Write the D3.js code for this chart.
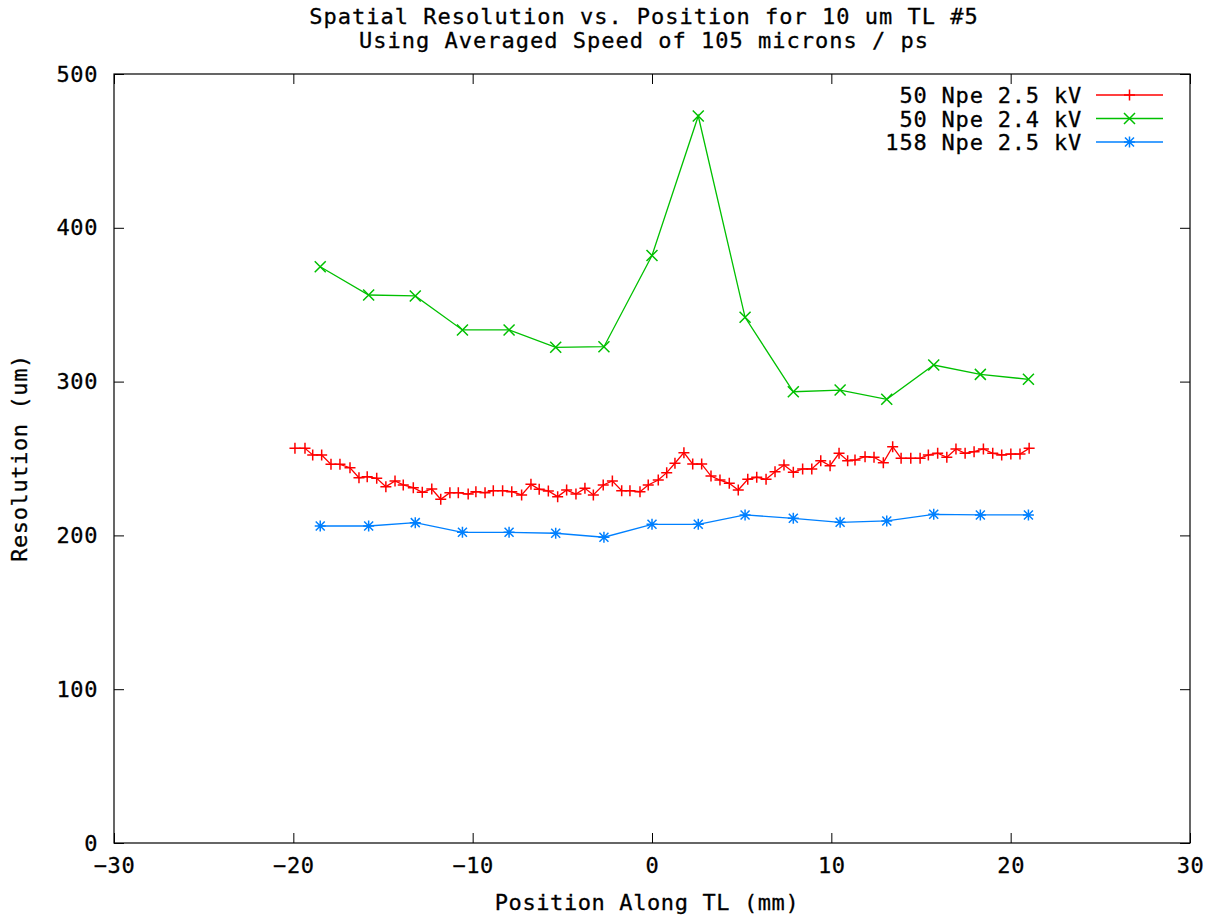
<!DOCTYPE html>
<html>
<head>
<meta charset="utf-8">
<script src="https://cdn.jsdelivr.net/npm/d3@7"></script>
<style>
  body { margin: 0; background: #fff; }
  text { font-family: "DejaVu Sans Mono", monospace; fill: #000; stroke: #000; stroke-width: 0.3px; }
</style>
</head>
<body>
<div id="chart"></div>
<script>
// x positions (mm) and resolutions (um)
var redX = [-19.91, -19.35, -18.92, -18.42, -17.90, -17.40, -16.84, -16.34, -15.88, -15.35,
  -14.84, -14.33, -13.87, -13.31, -12.81, -12.28, -11.78, -11.27, -10.80, -10.25,
  -9.82, -9.31, -8.85, -8.33, -7.82, -7.27, -6.75, -6.29, -5.78, -5.26,
  -4.76, -4.24, -3.74, -3.27, -2.72, -2.21, -1.69, -1.23, -0.67, -0.21,
  0.35, 0.82, 1.28, 1.78, 2.27, 2.77, 3.29, 3.79, 4.31, 4.81,
  5.34, 5.84, 6.36, 6.86, 7.36, 7.88, 8.40, 8.91, 9.41, 9.93,
  10.43, 10.91, 11.32, 11.88, 12.38, 12.90, 13.42, 13.89, 14.43, 14.95,
  15.41, 15.93, 16.44, 16.95, 17.46, 17.96, 18.48, 19.00, 19.50, 20.01,
  20.52, 21.03];
var redY = [256.6, 256.6, 252.3, 252.3, 246.2, 246.2, 244.0, 237.5, 238.2, 237.1,
  231.7, 235.4, 232.8, 231.0, 228.0, 230.2, 223.5, 227.8, 227.8, 226.9,
  228.4, 227.8, 229.1, 229.1, 228.4, 226.3, 233.2, 230.0, 228.9, 225.2,
  229.5, 226.9, 230.6, 226.3, 232.8, 235.4, 229.1, 229.1, 228.4, 232.8,
  236.0, 240.8, 246.9, 253.8, 246.4, 246.4, 238.6, 236.0, 233.9, 229.5,
  236.5, 237.8, 236.5, 241.4, 245.8, 241.0, 243.2, 243.2, 248.6, 245.3,
  253.4, 248.6, 249.0, 251.2, 250.8, 247.3, 257.7, 250.1, 250.1, 250.1,
  252.3, 253.4, 250.8, 256.2, 253.4, 254.4, 256.2, 253.4, 252.3, 252.9,
  252.9, 256.6];

var coarseX = [-18.5, -15.8, -13.2, -10.57, -7.97, -5.37, -2.68, 0, 2.58, 5.19,
  7.88, 10.49, 13.09, 15.71, 18.31, 20.99];
var greenY = [374.7, 356.3, 355.7, 333.6, 333.6, 322.3, 322.7, 382.0, 472.7, 341.8,
  293.4, 294.5, 288.5, 310.8, 304.7, 301.5];
var blueY = [206.1, 206.1, 208.3, 202.0, 202.0, 201.4, 198.8, 207.2, 207.2, 213.3,
  211.1, 208.5, 209.4, 213.7, 213.3, 213.3];

var seriesNames = ["50 Npe 2.5 kV", "50 Npe 2.4 kV", "158 Npe 2.5 kV"];
var seriesColors = ["#ff0000", "#00c000", "#0080ff"];
var xTicks = [-30, -20, -10, 0, 10, 20, 30];
var yTicks = [0, 100, 200, 300, 400, 500];

var series = [
  { name: seriesNames[0], color: seriesColors[0], mark: "plus", xs: redX, ys: redY },
  { name: seriesNames[1], color: seriesColors[1], mark: "cross", xs: coarseX, ys: greenY },
  { name: seriesNames[2], color: seriesColors[2], mark: "star", xs: coarseX, ys: blueY }
];

var W = 1223, H = 919;
var margin = { top: 74, right: 33, bottom: 76, left: 114 },
    width = W - margin.left - margin.right,
    height = H - margin.top - margin.bottom;

var svg = d3.select("#chart").append("svg")
  .attr("width", W)
  .attr("height", H);

var g = svg.append("g")
  .attr("transform", "translate(" + margin.left + "," + margin.top + ")");

var x = d3.scaleLinear().domain([-30, 30]).range([0, width]);
var y = d3.scaleLinear().domain([0, 500]).range([height, 0]);

function styleAxis(sel, showLabels) {
  sel.select(".domain").remove();
  sel.selectAll(".tick line").attr("stroke", "#000");
  sel.selectAll(".tick text")
    .style("font-size", "22px")
    .style("letter-spacing", "0.6px")
    .attr("fill", "#000");
  if (!showLabels) sel.selectAll(".tick text").remove();
}

// axes, ticks pointing inward, mirrored on top / right
g.append("g")
  .attr("transform", "translate(0," + height + ")")
  .call(d3.axisBottom(x).tickValues(xTicks).tickSizeInner(-10).tickSizeOuter(0).tickPadding(14)
    .tickFormat(function(d) { return d < 0 ? "\u2212" + Math.abs(d) : d; }))
  .call(styleAxis, true);

g.append("g")
  .call(d3.axisTop(x).tickValues(xTicks).tickSizeInner(-10).tickSizeOuter(0))
  .call(styleAxis, false);

g.append("g")
  .call(d3.axisLeft(y).tickValues(yTicks).tickSizeInner(-10).tickSizeOuter(0).tickPadding(16))
  .call(styleAxis, true);

g.append("g")
  .attr("transform", "translate(" + width + ",0)")
  .call(d3.axisRight(y).tickValues(yTicks).tickSizeInner(-10).tickSizeOuter(0))
  .call(styleAxis, false);

// border
g.append("rect")
  .attr("width", width)
  .attr("height", height)
  .attr("fill", "none")
  .attr("stroke", "#000")
  .attr("stroke-width", 1.2);

var markPaths = {
  plus: "M-5.5,0H5.5M0,-5.5V5.5",
  cross: "M-5.5,-5.5L5.5,5.5M-5.5,5.5L5.5,-5.5",
  star: "M-5.5,0H5.5M0,-5.5V5.5M-4.5,-4.5L4.5,4.5M-4.5,4.5L4.5,-4.5"
};

var line = d3.line()
  .x(function(d) { return x(d[0]); })
  .y(function(d) { return y(d[1]); });

series.forEach(function(s) {
  var pts = s.xs.map(function(v, i) { return [v, s.ys[i]]; });
  g.append("path")
    .datum(pts)
    .attr("fill", "none")
    .attr("stroke", s.color)
    .attr("stroke-width", 1.3)
    .attr("d", line);
  g.selectAll(".mk-" + s.mark)
    .data(pts)
    .enter().append("path")
    .attr("class", "mk-" + s.mark)
    .attr("transform", function(d) { return "translate(" + x(d[0]) + "," + y(d[1]) + ")"; })
    .attr("d", markPaths[s.mark])
    .attr("stroke", s.color)
    .attr("stroke-width", 1.5)
    .attr("fill", "none");
});

// legend
var legend = svg.append("g").attr("transform", "translate(0,95)");
series.forEach(function(s, i) {
  var row = legend.append("g").attr("transform", "translate(0," + (i * 23.5) + ")");
  row.append("text")
    .attr("x", 1082)
    .attr("y", 8)
    .attr("text-anchor", "end")
    .style("font-size", "22px")
    .style("letter-spacing", "0.8px")
    .text(s.name);
  row.append("line")
    .attr("x1", 1096).attr("x2", 1163)
    .attr("y1", 0).attr("y2", 0)
    .attr("stroke", s.color)
    .attr("stroke-width", 1.3);
  row.append("path")
    .attr("transform", "translate(1129.5,0)")
    .attr("d", markPaths[s.mark])
    .attr("stroke", s.color)
    .attr("stroke-width", 1.5);
});

// titles
svg.append("text")
  .attr("x", 644).attr("y", 24)
  .attr("text-anchor", "middle")
  .style("font-size", "22px")
  .style("letter-spacing", "1px")
  .text("Spatial Resolution vs. Position for 10 um TL #5");
svg.append("text")
  .attr("x", 644).attr("y", 48)
  .attr("text-anchor", "middle")
  .style("font-size", "22px")
  .style("letter-spacing", "1px")
  .text("Using Averaged Speed of 105 microns / ps");

svg.append("text")
  .attr("x", 647).attr("y", 910)
  .attr("text-anchor", "middle")
  .style("font-size", "22px")
  .style("letter-spacing", "0.6px")
  .text("Position Along TL (mm)");

svg.append("text")
  .attr("transform", "translate(27,458) rotate(-90)")
  .attr("text-anchor", "middle")
  .style("font-size", "22px")
  .style("letter-spacing", "0.6px")
  .text("Resolution (um)");
</script>
</body>
</html>
